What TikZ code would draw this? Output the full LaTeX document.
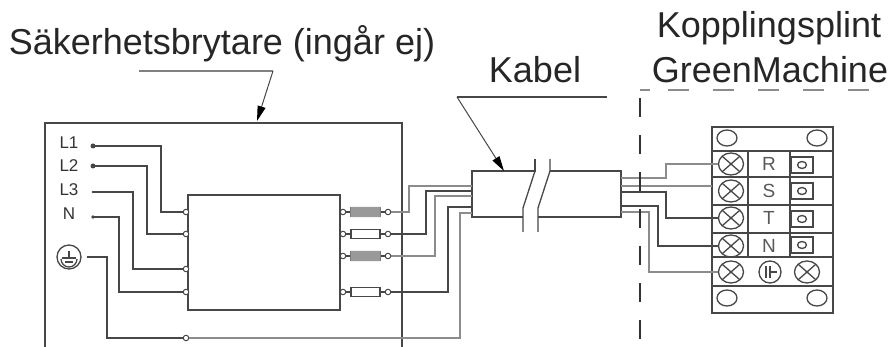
\documentclass[tikz,border=0pt]{standalone}
\usepackage{fontspec}
\setmainfont{Liberation Sans}
\usetikzlibrary{arrows.meta, shapes.geometric}
\begin{document}
\begin{tikzpicture}[x=1pt,y=-1pt,line width=1.3pt,color=black!72]
        \tikzstyle{pin}=[circle, draw, fill=white, inner sep=0pt, minimum size=5.5pt, line width=1pt]
        \tikzstyle{fuse}=[rectangle, draw, inner sep=0pt, minimum width=29pt, minimum height=9pt, line width=1.4pt]
        \tikzstyle{screw}=[ellipse, draw, inner sep=0pt, minimum width=25pt, minimum height=22pt, path picture={
          \draw (path picture bounding box.north west) -- (path picture bounding box.south east)
            (path picture bounding box.north east) -- (path picture bounding box.south west);}]
        \tikzstyle{hole}=[ellipse, draw, inner sep=0pt, minimum width=20pt, minimum height=16pt]
        \tikzstyle{lug}=[rectangle, draw, inner sep=0pt, minimum width=22pt, minimum height=16pt]
        \tikzstyle{title}=[inner sep=0pt, anchor=base, text=black!85, font=\fontsize{36}{40}\selectfont]
        \tikzstyle{small}=[inner sep=0pt, text=black!80, font=\fontsize{17}{20}\selectfont]
        \tikzstyle{mid}=[inner sep=0pt, text=black!65, font=\fontsize{19}{22}\selectfont]
        \tikzstyle{grey}=[black!45, line width=1.6pt]
        \tikzstyle{leader}=[line width=1pt, -{Triangle[length=15pt,width=8pt,black]}]
        \path [use as bounding box] (0,0) rectangle (892,347);

        % titles
        \path (222,55) node [title] (safety) {Säkerhetsbrytare (ingår ej)};
        \path (535,83) node [title] (cable) {Kabel};
        \path (769,38) node [title] (block) {Kopplingsplint};
        \path (770,83) node [title] (machine) {GreenMachine};

        % switch
        \draw (45,347) |- (402,123) -- (402,347);
        \path (264,252.5) node [draw, minimum width=152pt, minimum height=115pt, inner sep=0pt] (unit) {};

        \foreach \name/\txt/\y in {a/L1/143, b/L2/166, c/L3/190, d/N/214}
        {
          \path (69,\y) node [small] (lab\name) {\txt};
        }
        \path (69,257) node [circle, draw, minimum size=24pt, inner sep=0pt] (earth) {};
        \draw (61,259) arc (180:360:8pt);
        \draw (62,258) -- (76,258) (65,262) -- (73,262) (69,251) -- (69,258);

        \foreach \name/\y in {a/146, b/166, c/192, d/217}
        {
          \coordinate (in\name) at (93,\y);
        }
        \coordinate (ine) at (87,257);
        \fill (inb) circle (2.5pt) (ina) circle (2.5pt) (inc) circle (1.4pt) (ind) circle (1.8pt);

        \foreach \name/\y in {a/212, b/234, c/269, d/292}
        {
          \path (186,\y) node [pin] (p\name) {};
        }
        \foreach \name/\y in {a/212, b/234, c/256, d/292}
        {
          \path (343,\y) node [pin] (q\name) {};
          \path (365.5,\y) node [fuse] (f\name) {};
          \path (388,\y) node [pin] (r\name) {};
          \draw (q\name) -- (f\name) -- (r\name);
        }
        \fill [black!40] (fa.south west) rectangle (fa.north east) (fc.south west) rectangle (fc.north east);
        \path (186,338) node [pin] (pe) {};

        \draw (ina) -| (161,212) -- (pa);
        \draw (inb) -| (147,234) -- (pb);
        \draw (inc) -| (133,269) -- (pc);
        \draw (ind) -| (119,292) -- (pd);
        \draw (ine) -| (107,338) -- (pe);

        % cable
        \coordinate (ca) at (472,186);
        \coordinate (cb) at (472,191);
        \coordinate (cc) at (472,196);
        \coordinate (cd) at (472,207);
        \coordinate (ce) at (472,213);
        \draw (535,159) -- (535,171) -- (472,171) -- (472,217) -- (523,217);
        \draw (523,232) -- (523,208) -- (535,171);
        \draw (538,232) -- (538,208) -- (550,171) -- (550,159);
        \draw (538,217) -- (621,217) -- (621,171) -- (550,171);

        \draw [grey] (ra) -- (409,212) |- (ca);
        \draw (rb) -- (426,234) |- (cb);
        \draw [grey] (rc) -- (435,256) |- (cc);
        \draw (rd) -- (448,292) |- (cd);
        \draw [grey] (pe) -- (460,338) |- (ce);

        % terminal block
        \draw (712,127) rectangle (833,313);
        \foreach \y in {151, 177, 205, 233, 257, 286}
        {
          \draw (712,\y) -- (833,\y);
        }
        \draw (748,151) -- (748,257) (790,151) -- (790,257);
        \foreach \name/\txt/\y/\ty in {a/R/164/157, b/S/191/183, c/T/218/211, d/N/246/237}
        {
          \path (731,\y) node [screw] (s\name) {};
          \path (769,\y) node [mid] (t\name) {\txt};
          \path (802,\ty+8) node [lug] (u\name) {};
          \path (802,\ty+8) node [hole, minimum width=9pt, minimum height=7pt] (v\name) {};
        }
        \path (731,272) node [screw] (se) {};
        \path (807,272) node [screw] (sf) {};
        \path (770,272) node [circle, draw, minimum size=22pt, inner sep=0pt] (mark) {};
        \draw (766,266) -- (766,278) (770,266) -- (770,278) (770,272) -- (777,272);
        \foreach \x/\y in {727/138, 817/138, 727/298, 817/298}
        {
          \path (\x,\y) node [hole] {};
        }

        \coordinate (oa) at (621,178);
        \coordinate (ob) at (621,186);
        \coordinate (oc) at (621,192);
        \coordinate (od) at (621,206);
        \coordinate (oe) at (621,212);
        \draw [grey] (oa) -- (666,178) |- (sa);
        \draw [grey] (ob) -- (712,186);
        \draw (oc) -- (666,192) |- (sc);
        \draw (od) -- (658,206) |- (sd);
        \draw [grey] (oe) -- (649,212) |- (se);

        % machine border
        \draw [black!80, dash pattern=on 19pt off 18pt, dash phase=29pt] (640,347) -- (640,90);
        \draw [black!45, line width=1.6pt, dash pattern=on 10pt off 18pt on 21pt off 24pt on 21pt off 24pt on 21pt off 24pt on 21pt off 24pt on 21pt off 24pt on 21pt off 24pt] (640,90) -- (892,90);

        % leaders
        \coordinate (kneea) at (273,71);
        \coordinate (kneeb) at (457,97);
        \coordinate (tipa) at (257,121);
        \coordinate (tipb) at (504,171);
        \draw [black!50, line width=1.6pt] (139,71) -- (kneea);
        \draw [leader] (kneea) -- (tipa);
        \draw (607,97) -- (kneeb);
        \draw [leader] (kneeb) -- (tipb);
      \end{tikzpicture}
\end{document}
